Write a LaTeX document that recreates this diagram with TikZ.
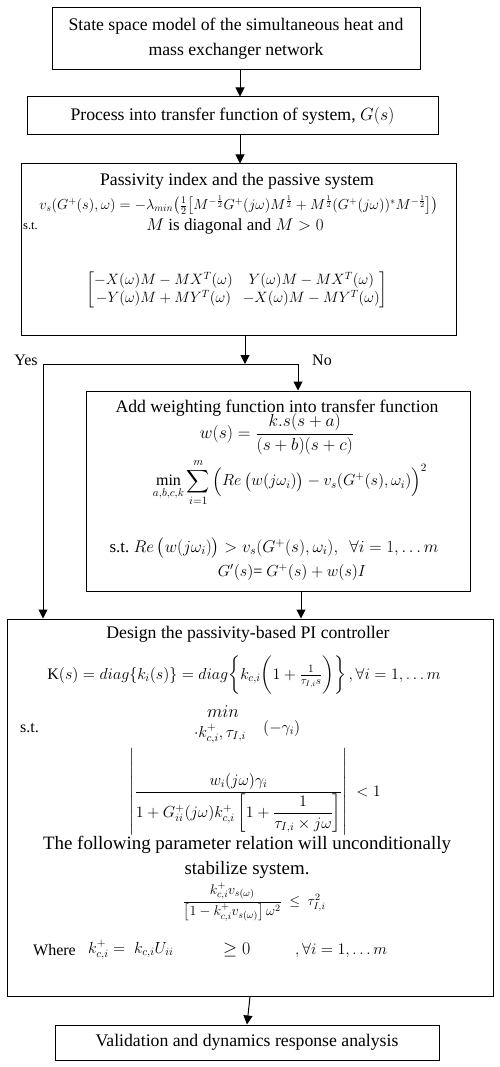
\RequirePackage{fix-cm}
\documentclass[tikz,border=0pt]{standalone}
\usepackage{amsmath}
\usepackage{amssymb}
\usepackage{fontspec}
\setmainfont{Liberation Serif}
\usetikzlibrary{arrows.meta,positioning,calc}

\begin{document}
\begin{tikzpicture}[
  x=1pt, y=-1pt,
  every node/.style={font=\fontsize{17.7}{25}\selectfont, inner sep=0pt},
  box/.style={draw, line width=1pt, align=center},
  lbl/.style={align=center},
  mth/.style={font=\fontsize{16}{25}\selectfont},
  small/.style={font=\fontsize{14.5}{16}\selectfont},
  arr/.style={-{Triangle[length=9pt,width=9pt]}, line width=1pt},
  link/.style={line width=1pt},
]
  \useasboundingbox (0,0) rectangle (500,1067);
  % main boxes
  \node[box, minimum width=368pt, minimum height=62pt] (b1) at (236,39)
    {State space model of the simultaneous heat and\\mass exchanger network};
  \node[box, minimum width=411pt, minimum height=38pt] (b2) at (232.5,116)
    {Process into transfer function of system, $G(s)$};
  \node[box, minimum width=435pt, minimum height=171pt] (b3) at (238.5,249.5) {};
  \node[box, minimum width=384pt, minimum height=200pt] (b4) at (278,491) {};
  \node[box, minimum width=486pt, minimum height=377pt] (b5) at (250,807.5) {};
  \node[box, minimum width=384pt, minimum height=35pt] (b6) at (247,1042.5)
    {Validation and dynamics response analysis};

  % passivity index
  \node (pti) at (237,181) {Passivity index and the passive system};
  \node[small] (pfm) at (239,205)
    {$v_s(G^+(s),\omega) = -\lambda_{min}\bigl(\tfrac{1}{2}\bigl[M^{-\frac{1}{2}}G^+(j\omega)M^{\frac{1}{2}} + M^{\frac{1}{2}}(G^+(j\omega))^*M^{-\frac{1}{2}}\bigr]\bigr)$};
  \node[font=\fontsize{12.5}{14}\selectfont, anchor=west] (pst) at (23,226) {s.t.};
  \node[font=\fontsize{17}{25}\selectfont] (pdg) at (235,226) {$M$ is diagonal and $M>0$};
  \node[font=\fontsize{15}{17}\selectfont] (pmx) at (237,290)
    {$\begin{bmatrix} -X(\omega)M - MX^T(\omega) & Y(\omega)M - MX^T(\omega)\\
      -Y(\omega)M + MY^T(\omega) & -X(\omega)M - MY^T(\omega)\end{bmatrix}$};

  % weighting function
  \node (wti) at (277,408) {Add weighting function into transfer function};
  \node[font=\fontsize{17.5}{25}\selectfont] (wfn) at (277,434) {$w(s) = \dfrac{k.s(s+a)}{(s+b)(s+c)}$};
  \node[mth] (wmn) at (290,483)
    {$\displaystyle\min_{a,b,c,k}\sum_{i=1}^{m}\Big(Re\,\big(w(j\omega_i)\big) - v_s(G^+(s),\omega_i)\Big)^2$};
  \node[font=\fontsize{17}{25}\selectfont] (wst) at (274,548)
    {s.t.\ $Re\,\big(w(j\omega_i)\big) > v_s(G^+(s),\omega_i),\ \ \forall i = 1,\ldots m$};
  \node[mth] (wgp) at (292,572) {$G'(s)$= $G^+(s) + w(s)I$};

  % PI controller
  \node (dti) at (248,634) {Design the passivity-based PI controller};
  \node[mth] (dks) at (244,675)
    {$\mathrm{K}(s) = diag\{k_i(s)\} = diag\bigg\{k_{c,i}\bigg(1+\frac{1}{\tau_{I,i}s}\bigg)\bigg\}\,,\forall i = 1,\ldots m$};
  \node[mth, anchor=west] (dst) at (20,728) {s.t.};
  \node[font=\fontsize{18}{25}\selectfont] (dmn) at (223,712) {$min$};
  \node[mth] (dmv) at (220,734) {$\cdot k^+_{c,i},\tau_{I,i}$};
  \node[mth, anchor=west] (dgm) at (263,728) {$(-\gamma_i)$};
  \node[mth] (dab) at (255,792)
    {$\left|\rule[-34pt]{0pt}{76pt}\dfrac{w_i(j\omega)\gamma_i}{1+G^+_{ii}(j\omega)k^+_{c,i}\left[1+\dfrac{1}{\tau_{I,i}\times j\omega}\right]}\right|\ < 1$};
  \node[lbl, font=\fontsize{18.9}{25}\selectfont] (dnt) at (247,857.5)
    {The following parameter relation will unconditionally\\stabilize system.};
  \node[font=\fontsize{14}{20}\selectfont] (dkf) at (254,902)
    {$\dfrac{k^+_{c,i}v_{s(\omega)}}{\left[1-k^+_{c,i}v_{s(\omega)}\right]\omega^2}\ \le\ \tau^2_{I,i}$};
  \node[mth, anchor=west] (dwh) at (33,950) {Where};
  \node[mth, anchor=west] (dwk) at (88,950) {$k^+_{c,i} =$};
  \node[mth, anchor=west] (dwu) at (134,950) {$k_{c,i}U_{ii}$};
  \node[font=\fontsize{18}{25}\selectfont, anchor=west] (dwg) at (223,950) {$\geq 0$};
  \node[mth, anchor=west] (dwf) at (295,950) {$,\forall i = 1,\ldots m$};

  % decision labels
  \node[mth] (yes) at (26,360) {Yes};
  \node[mth] (no) at (322,360) {No};

  % connectors
  \coordinate (fork) at (245,364);
  \coordinate (yturn) at (43,364);
  \coordinate (nturn) at (298,364);
  \draw[arr] ([xshift=4pt]b1.south) -- ([xshift=4pt]b1.south |- b2.north);
  \draw[arr] ([xshift=7.5pt]b2.south) -- ([xshift=7.5pt]b2.south |- b3.north);
  \draw[arr] (b3.south -| fork) -- (fork);
  \draw[link] (yturn) -- (nturn);
  \draw[arr] (nturn) -- (nturn |- b4.north);
  \draw[arr] (yturn) -- (yturn |- b5.north);
  \draw[arr] ([xshift=23pt]b4.south) -- ([xshift=23pt]b4.south |- b5.north);
  \draw[arr] (b5.south) -- (b6.north);
\end{tikzpicture}
\end{document}
